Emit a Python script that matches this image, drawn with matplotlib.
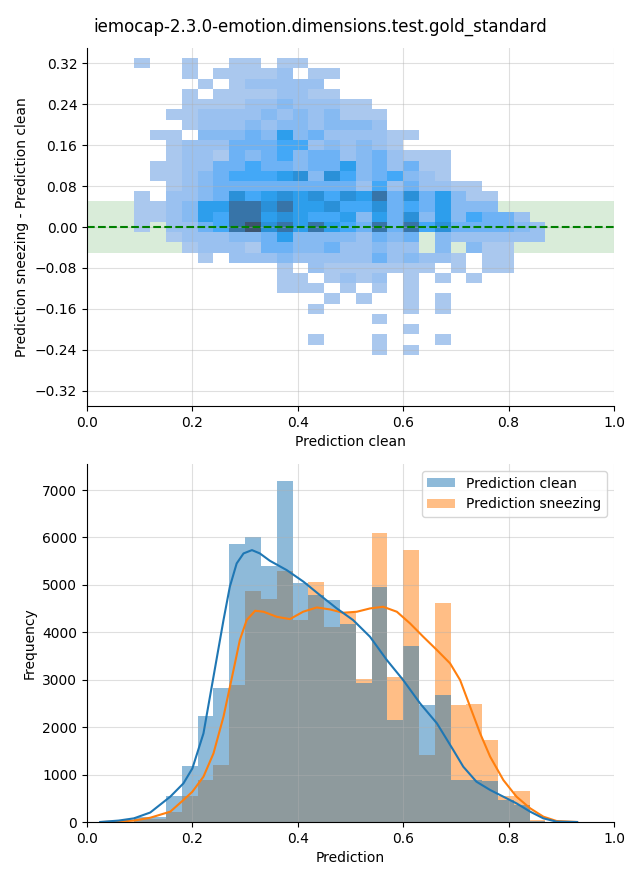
import numpy as np
import matplotlib
matplotlib.use("Agg")
import matplotlib.pyplot as plt
from matplotlib.patches import Patch
from matplotlib.ticker import MultipleLocator
import seaborn as sns

title = "iemocap-2.3.0-emotion.dimensions.test.gold_standard"

# bin edges (prediction axis shared by both panels, difference axis for the top one)
pred_edges = np.round(np.arange(0.09, 0.8701, 0.03), 2)
diff_edges = np.round(np.arange(-0.25, 0.3301, 0.02), 2)

# top panel: one string per row of cells, top row (0.31..0.33) first
# each digit is the colour level of the cell (0 = empty)
diff_rows = [
    "10010011011000000000000000",
    "00010111120110000000000000",
    "00001012222200000000000000",
    "00010111122110000000000000",
    "00011112232221100000000000",
    "00112222323231110000000000",
    "00012223233233320000000000",
    "01103334363422221100000000",
    "00122244455232321000000000",
    "00122143453442342111000000",
    "01122445443446342411000000",
    "01123455567375345321000000",
    "00123444444444252422110000",
    "10223475676757684746311000",
    "11236688786675574546333000",
    "11236588676556364736354420",
    "10224589786865484857444432",
    "00122233463333243403222222",
    "00012221443342232203031100",
    "00001022232222242322101100",
    "00000000010211111110101100",
    "00000000011012120101010000",
    "00000000011101010100000000",
    "00000000000010100101000000",
    "00000000000100000101000000",
    "00000000000000010000000000",
    "00000000000000000100000000",
    "00000000000100010001000000",
    "00000000000000010100000000",
]
level_counts = [0, 1, 7, 14, 21, 30, 39, 50, 73, 100]

# bottom panel: counts per bin
clean_counts = [110, 100, 550, 1180, 2235, 2825, 5860, 6010, 5400, 7190, 5030, 4790, 4680,
                4170, 2930, 4950, 2160, 3710, 2475, 2680, 885, 885, 865, 470, 360, 30]
sneezing_counts = [60, 60, 220, 555, 885, 1208, 2890, 4870, 4700, 5290, 4260, 5060, 4120,
                   4410, 3010, 6090, 3060, 5730, 1410, 4620, 2470, 2490, 1730, 550, 650, 40]

# density curves (scaled to counts)
clean_kde_x = [0.025, 0.06, 0.089, 0.12, 0.158, 0.183, 0.2, 0.221, 0.24, 0.259, 0.271,
               0.284, 0.297, 0.313, 0.328, 0.347, 0.379, 0.411, 0.442, 0.474, 0.505, 0.537,
               0.569, 0.6, 0.632, 0.664, 0.695, 0.714, 0.739, 0.765, 0.79, 0.815, 0.841,
               0.866, 0.891, 0.93]
clean_kde_y = [0, 30, 77, 200, 534, 815, 1131, 1869, 3063, 4258, 4961, 5453, 5664, 5734,
               5664, 5509, 5312, 5066, 4785, 4504, 4258, 3907, 3415, 2993, 2502, 2080, 1518,
               1166, 850, 675, 534, 393, 218, 77, 7, 0]
sneezing_kde_x = [0.03, 0.06, 0.089, 0.12, 0.158, 0.183, 0.2, 0.221, 0.24, 0.259, 0.278,
                  0.29, 0.303, 0.319, 0.335, 0.36, 0.385, 0.41, 0.436, 0.461, 0.486, 0.512,
                  0.537, 0.562, 0.588, 0.613, 0.638, 0.664, 0.689, 0.708, 0.727, 0.746,
                  0.765, 0.79, 0.815, 0.841, 0.866, 0.891, 0.93]
sneezing_kde_y = [0, 10, 30, 90, 218, 464, 639, 956, 1447, 2221, 3204, 3837, 4258, 4455,
                  4434, 4328, 4279, 4434, 4525, 4483, 4413, 4434, 4504, 4539, 4434, 4188,
                  3907, 3626, 3345, 2993, 2431, 1869, 1377, 885, 534, 288, 112, 21, 0]

x_centers = (pred_edges[:-1] + pred_edges[1:]) / 2
y_centers = (diff_edges[:-1] + diff_edges[1:]) / 2
levels = np.array([[int(c) for c in row] for row in diff_rows[::-1]])
cell_counts = np.array(level_counts)[levels]
gx, gy = np.meshgrid(x_centers, y_centers)

fig = plt.figure(figsize=(6.4, 8.8), dpi=100)
ax1 = fig.add_axes([87 / 640, 1 - 406 / 880, 527 / 640, 358 / 880])
ax2 = fig.add_axes([87 / 640, 1 - 822 / 880, 527 / 640, 358 / 880])

# --- top: 2d histogram of the difference
ax1.axhspan(-0.05, 0.05, color="green", alpha=0.15, lw=0, zorder=0.5)
sns.histplot(x=gx.ravel(), y=gy.ravel(), weights=cell_counts.ravel(),
             bins=[pred_edges.tolist(), diff_edges.tolist()], ax=ax1)
ax1.axhline(0, color="green", linestyle="--", linewidth=1.5)
ax1.set_xlim(0, 1)
ax1.set_ylim(-0.35, 0.35)
ax1.yaxis.set_major_locator(MultipleLocator(0.08))
ax1.set_xlabel("Prediction clean")
ax1.set_ylabel("Prediction sneezing - Prediction clean")
ax1.grid(True, alpha=0.4)

# --- bottom: distributions of both predictions
sns.histplot(x=x_centers, weights=sneezing_counts, bins=pred_edges.tolist(),
             color="C1", alpha=0.5, linewidth=0, ax=ax2)
sns.histplot(x=x_centers, weights=clean_counts, bins=pred_edges.tolist(),
             color="C0", alpha=0.5, linewidth=0, ax=ax2)
ax2.plot(sneezing_kde_x, sneezing_kde_y, color="C1", linewidth=1.5)
ax2.plot(clean_kde_x, clean_kde_y, color="C0", linewidth=1.5)
ax2.set_xlim(0, 1)
ax2.set_ylim(0, 7550)
ax2.yaxis.set_major_locator(MultipleLocator(1000))
ax2.set_xlabel("Prediction")
ax2.set_ylabel("Frequency")
ax2.grid(True, alpha=0.4)
handles = [Patch(color="C0", alpha=0.5, lw=0), Patch(color="C1", alpha=0.5, lw=0)]
ax2.legend(handles, ["Prediction clean", "Prediction sneezing"], loc="upper right")

for ax in (ax1, ax2):
    ax.spines[["top", "right"]].set_visible(False)

fig.suptitle(title, fontsize=12)
fig.savefig("out.png", dpi=100)
